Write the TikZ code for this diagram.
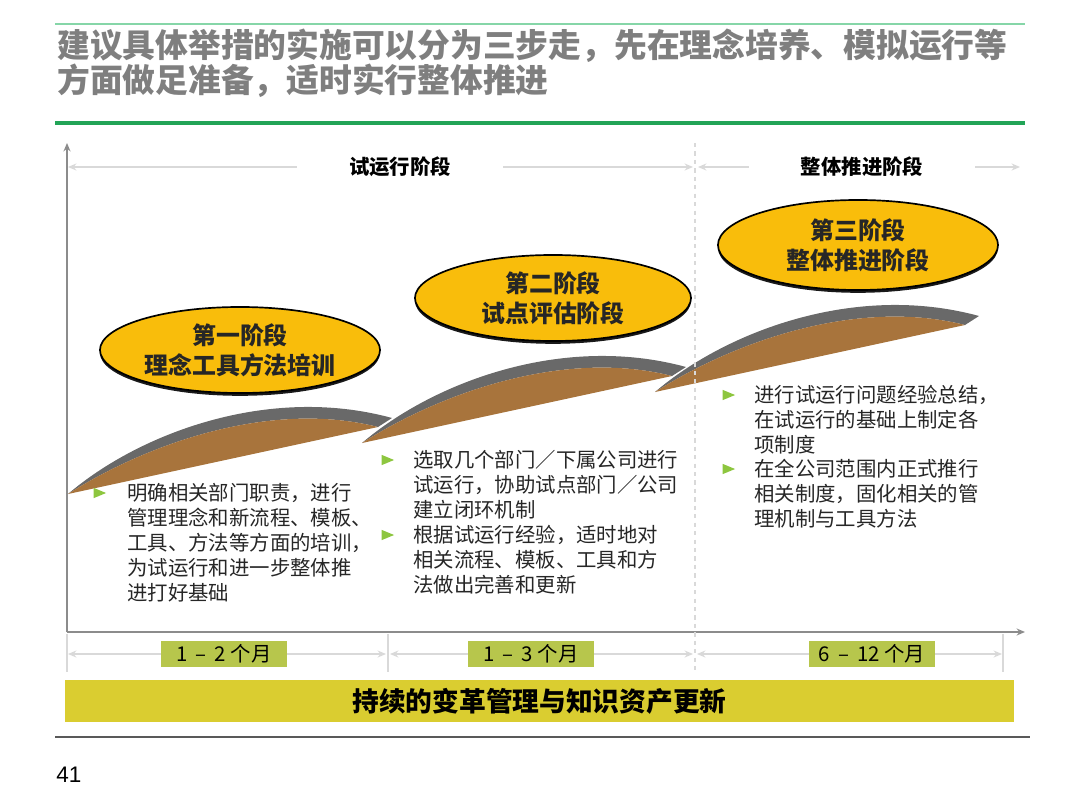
\documentclass[tikz,border=0pt]{standalone}
\usepackage{fontspec}
\setmainfont{Noto Sans CJK SC}
\newfontfamily\numfont{Liberation Sans}
\usetikzlibrary{arrows.meta,positioning,shapes.geometric,shadows}
\definecolor{titlegray}{HTML}{7F7F7F}
\definecolor{rulegreen}{HTML}{22A457}
\definecolor{lightgreen}{HTML}{86D6A8}
\definecolor{axisgray}{HTML}{8C8C8C}
\definecolor{spangray}{HTML}{D9D9D9}
\definecolor{phaseyellow}{HTML}{F9BD0B}
\definecolor{swooshgray}{HTML}{696969}
\definecolor{swooshbrown}{HTML}{A8743C}
\definecolor{bulletgreen}{HTML}{8DC63F}
\definecolor{monthgreen}{HTML}{B7C64C}
\definecolor{baryellow}{HTML}{DACD30}
\definecolor{footgray}{HTML}{595959}

\begin{document}
\begin{tikzpicture}[x=0.025cm,y=-0.025cm,>={Stealth[length=6pt,width=5pt]},
  phase/.style={draw=black,line width=1.2pt,fill=phaseyellow,ellipse,inner sep=0pt,
    minimum width=7cm,minimum height=2.15cm,align=center,text=black!85,
    font=\fontsize{17}{21.3}\selectfont\bfseries,
    drop shadow={shadow xshift=0pt,shadow yshift=-0.07cm,fill=black,opacity=0.9}},
  stagelabel/.style={fill=white,inner xsep=1.3cm,font=\fontsize{14.5}{17}\selectfont\bfseries},
  span/.style={draw=spangray,line width=0.8pt},
  axis/.style={draw=axisgray,line width=1pt},
  bullet/.style={isosceles triangle,fill=bulletgreen,inner sep=0pt,minimum size=0.26cm},
  note/.style={anchor=north west,align=left,inner sep=0pt,text=black!85,
    font=\fontsize{14.5}{17.7}\selectfont},
  month/.style={fill=monthgreen,minimum width=3.15cm,minimum height=0.65cm,inner sep=0pt,
    font=\fontsize{14.5}{16}\selectfont},
  swoosh/.pic={
    \fill[swooshgray] (0,0) .. controls (70,-60) and (200,-110) .. (324,-76)
      -- (310,-67) .. controls (200,-95) and (75,-48) .. cycle;
    \fill[swooshbrown] (0,0) .. controls (75,-48) and (200,-95) .. (310,-67) -- cycle;
  }]
\useasboundingbox (0,0) rectangle (1080,810);

\coordinate (rule1l) at (55,24);
\coordinate (rule1r) at (1025,24);
\coordinate (rule2l) at (55,123);
\coordinate (rule2r) at (1025,123);
\draw[lightgreen,line width=1.6pt] (rule1l) -- (rule1r);
\draw[rulegreen,line width=2.2pt] (rule2l) -- (rule2r);
\node[anchor=north west,align=left,inner sep=0pt,text=titlegray,
  font=\fontsize{23.3}{24.9}\selectfont\bfseries] (title) at (57,29)
  {建议具体举措的实施可以分为三步走，先在理念培养、模拟运行等\\方面做足准备，适时实行整体推进};

\coordinate (origin) at (67,632);
\coordinate (ytop) at (67,143);
\coordinate (xend) at (1025,632);
\draw[axis,->] (origin) -- (ytop);
\draw[axis,->] (origin) -- (xend);

\coordinate (a0) at (68,167);
\coordinate (a1) at (693,167);
\coordinate (a2) at (698,167);
\coordinate (a3) at (1020,167);
\node[stagelabel] (trial) at (400,167) {试运行阶段};
\node[stagelabel] (rollout) at (862,167) {整体推进阶段};
\draw[span,<-] (a0) -- (trial);
\draw[span,->] (trial) -- (a1);
\draw[span,<-] (a2) -- (rollout);
\draw[span,->] (rollout) -- (a3);

\pic (s1) at (68,494) {swoosh};
\pic (s2) at (362,443) {swoosh};
\pic (s3) at (655,392) {swoosh};

\coordinate (dtop) at (695,143);
\coordinate (dbot) at (695,672);
\draw[span,dashed] (dtop) -- (dbot);
\foreach \x in {67,388,1003}
  \draw[span] (\x,634) -- (\x,672);

\node[phase] (p1) at (240,350) {第一阶段\\理念工具方法培训};
\node[phase,minimum width=6.9cm] (p2) at (553,298) {第二阶段\\试点评估阶段};
\node[phase,minimum height=2.25cm] (p3) at (858,245) {第三阶段\\整体推进阶段};

\node[bullet] (b1) at (97,493) {};
\node[note] (n1) at (127,483) {明确相关部门职责，进行\\管理理念和新流程、模板、\\工具、方法等方面的培训，\\为试运行和进一步整体推\\进打好基础};
\node[bullet] (b2) at (385,460) {};
\node[note] (n2) at (413,450) {选取几个部门／下属公司进行\\试运行，协助试点部门／公司\\建立闭环机制};
\node[bullet] (b3) at (385,535) {};
\node[note] (n3) at (413,525) {根据试运行经验，适时地对\\相关流程、模板、工具和方\\法做出完善和更新};
\node[bullet] (b4) at (726,395) {};
\node[note] (n4) at (754,385) {进行试运行问题经验总结，\\在试运行的基础上制定各\\项制度};
\node[bullet] (b5) at (726,469) {};
\node[note] (n5) at (754,459) {在全公司范围内正式推行\\相关制度，固化相关的管\\理机制与工具方法};

\coordinate (d0) at (68,654);
\coordinate (d1) at (386,654);
\coordinate (d2) at (390,654);
\coordinate (d3) at (693,654);
\coordinate (d4) at (697,654);
\coordinate (d5) at (1002,654);
\node[month] (m1) at (224,654) {1 \,–\, 2 个月};
\node[month] (m2) at (531,654) {1 \,–\, 3 个月};
\node[month] (m3) at (872,654) {6 \,–\, 12 个月};
\draw[span,<-] (d0) -- (m1);
\draw[span,->] (m1) -- (d1);
\draw[span,<-] (d2) -- (m2);
\draw[span,->] (m2) -- (d3);
\draw[span,<-] (d4) -- (m3);
\draw[span,->] (m3) -- (d5);

\node[fill=baryellow,minimum width=23.7cm,minimum height=1.05cm,inner sep=0pt,
  font=\fontsize{19}{22}\selectfont\bfseries] (renew) at (539.5,701) {持续的变革管理与知识资产更新};

\coordinate (footl) at (55,737);
\coordinate (footr) at (1030,737);
\draw[footgray,line width=1.4pt] (footl) -- (footr);
\node[anchor=west,inner sep=0pt,font=\numfont\fontsize{16}{18}\selectfont] (pagenum) at (56,775) {41};
\end{tikzpicture}
\end{document}
